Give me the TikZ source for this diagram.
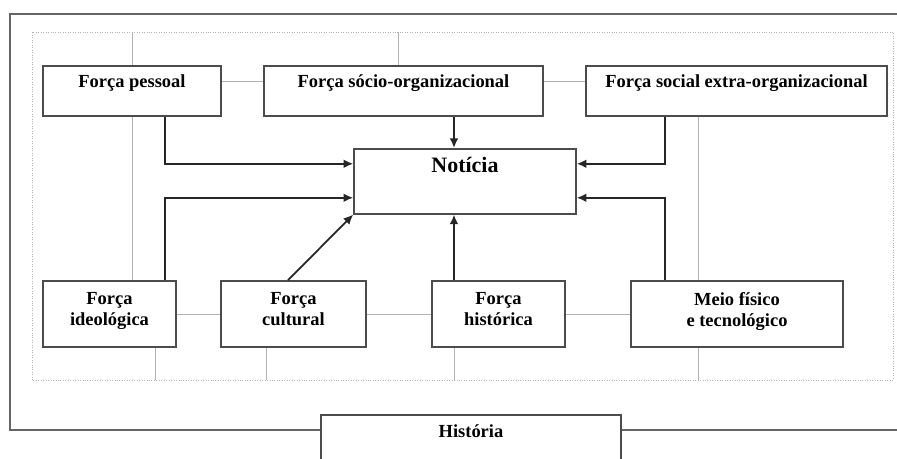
\documentclass[tikz,border=0pt]{standalone}
\usepackage{fontspec}
\setmainfont{Liberation Serif}
\usetikzlibrary{arrows.meta}
\colorlet{edge}{black!70}
\tikzset{diag/box/.style={draw=edge, line width=0.9pt, fill=white, align=center, font=\fontsize{10.5}{12}\selectfont\bfseries}}
\tikzset{diag/top/.style={diag/box, anchor=north, inner ysep=0pt, text height=4.4mm, text depth=5.6mm, minimum height=1cm}}
\tikzset{diag/low/.style={diag/box, minimum height=1.32cm, text depth=1.9mm}}
\tikzset{diag/arrow/.style={black!85, line width=1pt, -{Latex[length=5.5pt,width=5pt]}}}
\tikzset{diag/guide/.style={black!30, line width=0.4pt}}
\tikzset{diag/frame/.style={black!60, line width=0.8pt}}

\begin{document}
\begin{tikzpicture}
  \clip (0,0) rectangle (17.94,9.18);
  \coordinate (ftop) at (0,8.54);
  \coordinate (fbot) at (0,1.58);
  \coordinate (fl) at (0.20,0.58);
  \coordinate (lcol) at (3.30,0);
  \coordinate (mcol) at (9.08,0);
  \coordinate (rcol) at (13.30,0);
  \draw[diag/guide, densely dotted] (0.64,1.58) rectangle (17.86,8.54);

  \node[diag/top, minimum width=3.56cm] (pessoal) at (2.64,7.88) {Força pessoal};
  \node[diag/top, minimum width=5.58cm] (socio) at (8.07,7.88) {Força sócio-organizacional};
  \node[diag/top, minimum width=6.02cm] (extra) at (14.73,7.88) {Força social extra-organizacional};
  \node[diag/box, anchor=north, inner ysep=0pt, minimum width=4.44cm, text height=4.8mm, text depth=8.2mm,
        font=\fontsize{12.5}{14}\selectfont\bfseries] (news) at (9.30,6.22) {Notícia};
  \node[diag/low, minimum width=2.66cm] (ideol) at (2.19,2.90) {Força\\ideológica};
  \node[diag/low, minimum width=2.90cm] (cultural) at (5.87,2.90) {Força\\cultural};
  \node[diag/low, minimum width=2.66cm] (historica) at (9.97,2.90) {Força\\histórica};
  \node[diag/low, minimum width=4.24cm] (meio) at (14.74,2.90) {Meio físico\\e tecnológico};
  \node[diag/box, anchor=north, inner ysep=0pt, minimum width=6cm, text height=4.6mm, text depth=10mm] (hist) at (9.42,0.90) {História};

  \draw[diag/guide] (pessoal.north) -- (pessoal.north |- ftop);
  \draw[diag/guide] (pessoal.south) -- (pessoal.south |- ideol.north);
  \draw[diag/guide] ([xshift=-1.1mm]socio.north) -- ([xshift=-1.1mm]socio.north |- ftop);
  \draw[diag/guide] ([yshift=1.8mm]pessoal.east) -- ([yshift=1.8mm]socio.west);
  \draw[diag/guide] ([yshift=1.8mm]socio.east) -- ([yshift=1.8mm]extra.west);
  \foreach \a/\b in {ideol/cultural, cultural/historica, historica/meio}
    \draw[diag/guide] (\a.east) -- (\b.west);
  \draw[diag/guide] ([xshift=9.1mm]ideol.south) -- ([xshift=9.1mm]ideol.south |- fbot);
  \draw[diag/guide] ([xshift=-5.5mm]cultural.south) -- ([xshift=-5.5mm]cultural.south |- fbot);
  \draw[diag/guide] ([xshift=-8.9mm]historica.south) -- ([xshift=-8.9mm]historica.south |- fbot);
  \draw[diag/guide] ([xshift=-7.7mm]extra.south) -- ([xshift=-7.7mm]extra.south |- meio.north);
  \draw[diag/guide] ([xshift=-7.8mm]meio.south) -- ([xshift=-7.8mm]meio.south |- fbot);

  \draw[diag/arrow] (pessoal.south -| lcol) |- ([yshift=3.5mm]news.west);
  \draw[diag/arrow] (ideol.north -| lcol) |- ([yshift=-3.3mm]news.west);
  \draw[diag/arrow] ([xshift=-1.1mm]cultural.north) -- (news.south west);
  \draw[diag/arrow] (socio.south -| mcol) -- (news.north -| mcol);
  \draw[diag/arrow] (historica.north -| mcol) -- (news.south -| mcol);
  \draw[diag/arrow] (extra.south -| rcol) |- ([yshift=3.5mm]news.east);
  \draw[diag/arrow] (meio.north -| rcol) |- ([yshift=-3.3mm]news.east);

  \draw[diag/frame] (18,8.90) -- (0.20,8.90) -- (fl) -- (fl -| hist.west);
  \draw[diag/frame] (fl -| hist.east) -- (18,0.58);
\end{tikzpicture}
\end{document}
